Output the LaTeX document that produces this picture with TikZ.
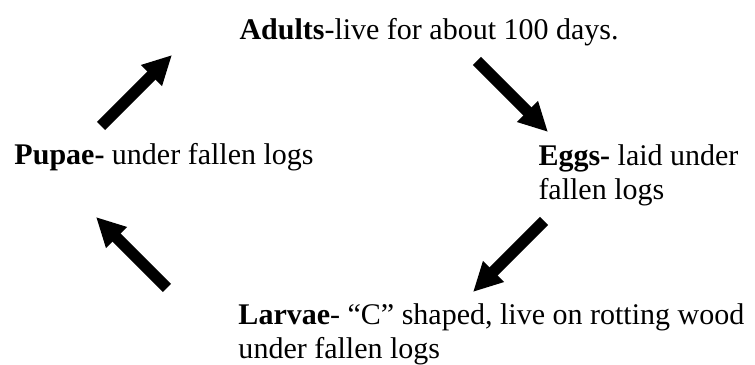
\documentclass[tikz,border=0pt]{standalone}
\usepackage{fontspec}
\setmainfont{Liberation Serif}
\usetikzlibrary{arrows.meta, positioning}

\begin{document}
\begin{tikzpicture}[
  x=0.4pt, y=-0.4pt,
  every node/.style={font=\fontsize{12}{13.8}\selectfont, inner sep=0pt},
  stage/.style={anchor=base west, align=left},
  cyclearrow/.style={line width=4.6pt, -{Triangle[length=11.6pt, width=11pt]}}
]
\useasboundingbox (0,0) rectangle (755,365);

% Stages of the life cycle (base = last line)
\node[stage] (adults) at (239,40) {\textbf{Adults}-live for about 100 days.};
\node[stage] (eggs) at (538,200) {\textbf{Eggs-} laid under\\ fallen logs};
\node[stage] (larvae) at (238,359) {\textbf{Larvae}- “C” shaped, live on rotting wood\\ under fallen logs};
\node[stage] (pupae) at (14,165) {\textbf{Pupae-} under fallen logs};

% Arrow ends
\coordinate (pupaeout) at (101,126);
\coordinate (adultsin) at (172,55);
\coordinate (adultsout) at (477,61);
\coordinate (eggsin) at (548,132);
\coordinate (eggsout) at (544,221);
\coordinate (larvaein) at (473,292);
\coordinate (larvaeout) at (167,288);
\coordinate (pupaein) at (96,217);

% Arrows of the cycle
\draw[cyclearrow] (pupaeout) -- (adultsin);
\draw[cyclearrow] (adultsout) -- (eggsin);
\draw[cyclearrow] (eggsout) -- (larvaein);
\draw[cyclearrow] (larvaeout) -- (pupaein);

\end{tikzpicture}
\end{document}
